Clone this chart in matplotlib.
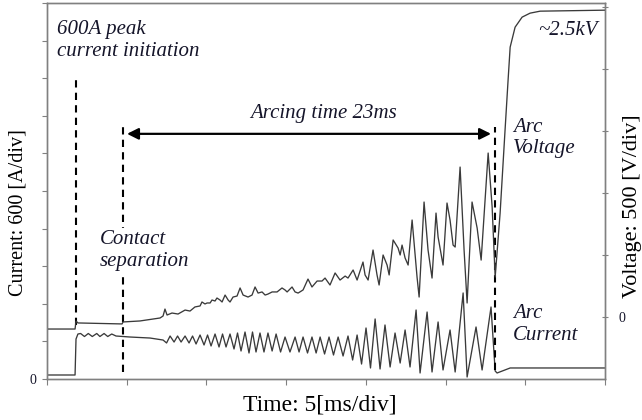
import matplotlib.pyplot as plt

plt.rcParams['font.family'] = ['Liberation Serif', 'DejaVu Serif']

# scope readings: time in ms (5 ms/div), current in A (600 A/div), voltage in V (500 V/div)
cur_t = [0, 1.76, 1.82, 1.94, 2.11, 2.35, 2.59, 2.84, 3.12, 3.32, 3.58, 3.81, 4.06, 4.33,
         5.21, 6.46, 7.28, 7.50, 7.72, 7.97, 8.19, 8.41, 8.66, 8.91, 9.13, 9.35, 9.60, 9.85,
         10.07, 10.29, 10.54, 10.79, 11.01, 11.23, 11.48, 11.73, 11.95, 12.17, 12.42, 12.67,
         12.89, 13.11, 13.36, 13.61, 13.86, 14.12, 14.37, 14.65, 14.93, 15.24, 15.56, 15.81,
         16.06, 16.34, 16.62, 16.88, 17.13, 17.41, 17.69, 17.97, 18.26, 18.57, 18.88, 19.17,
         19.45, 19.73, 20.01, 20.29, 20.58, 20.89, 21.20, 21.52, 21.83, 22.15, 22.46, 22.77,
         23.15, 23.40, 23.84, 24.15, 24.53, 24.84, 25.28, 25.60, 26.10, 26.35, 26.91, 27.29,
         27.85, 28.11, 28.23, 29.05, 35.0]
cur_a = [64, 64, 638, 718, 726, 678, 726, 678, 726, 678, 726, 678, 718, 686,
         670, 654, 622, 575, 686, 590, 686, 590, 686, 575, 686, 559, 702, 543,
         702, 527, 718, 511, 718, 511, 718, 479, 734, 447, 750, 415,
         750, 431, 734, 431, 734, 447, 718, 431, 670, 431, 670, 431,
         670, 415, 670, 415, 670, 399, 670, 383, 670, 367, 686, 303,
         702, 239, 814, 176, 958, 160, 862, 192, 734, 255, 782, 192,
         1101, 96, 1069, 112, 910, 144, 782, 112, 1373, 32, 830, 144,
         1149, 128, 96, 176, 176]

volt_t = [0, 1.76, 1.82, 1.94, 3.32, 4.71, 4.77, 5.83, 7.09, 7.28, 7.40, 7.53, 7.84, 8.22,
          8.66, 8.97, 9.28, 9.60, 9.72, 9.91, 10.04, 10.23, 10.35, 10.54, 10.66, 10.85, 10.98,
          11.17, 11.36, 11.48, 11.67, 11.92, 12.11, 12.30, 12.61, 12.86, 13.05, 13.24, 13.49,
          13.68, 13.86, 14.12, 14.43, 14.74, 14.93, 15.06, 15.37, 15.56, 15.75, 16.06, 16.37,
          16.62, 16.94, 17.25, 17.44, 17.75, 18.07, 18.38, 18.70, 18.88, 19.20, 19.45, 19.82,
          19.95, 20.14, 20.45, 20.70, 20.83, 21.08, 21.33, 21.46, 21.71, 22.02, 22.15, 22.27,
          22.46, 22.65, 22.90, 23.21, 23.34, 23.65, 23.90, 24.15, 24.40, 24.53, 24.84, 25.09,
          25.28, 25.47, 25.60, 25.91, 26.16, 26.35, 26.66, 26.98, 27.23, 27.67, 27.92, 28.11,
          28.42, 28.73, 28.92, 29.05, 29.36, 29.80, 30.30, 30.93, 35.0]
volt_v = [-97, -97, -32, -48, -52, -56, -40, -32, -8, 8, 64, 16, 32, 24,
          56, 48, 81, 89, 121, 105, 113, 113, 137, 129, 153, 137, 121,
          177, 137, 121, 161, 169, 234, 177, 161, 177, 242, 193, 202,
          177, 185, 202, 202, 234, 218, 202, 242, 202, 193, 218, 306,
          242, 290, 290, 314, 258, 355, 298, 330, 314, 379, 298, 443,
          339, 298, 540, 339, 258, 500, 419, 339, 621, 556, 500, 580,
          476, 419, 782, 322, 161, 927, 540, 314, 838, 645, 419, 919,
          782, 580, 564, 1209, 540, 113, 927, 717, 459, 1322, 887, 322,
          838, 1507, 1910, 2176, 2337, 2418, 2450, 2466, 2474]

t_init = 1.82
t_sep = 4.77
t_end = 28.1

trace = '#3a3a3a'
ink = '#15152a'

fig = plt.figure(figsize=(6.42, 4.2), dpi=100)
ax = fig.add_axes([0.0732, 0.0976, 0.8692, 0.8953])
ax2 = ax.twinx()

ax.plot(cur_t, cur_a, color=trace, lw=0.95)
ax2.plot(volt_t, volt_v, color=trace, lw=0.95)

ax.set_xlim(0, 35)
ax.set_ylim(0, 6000)
ax2.set_ylim(-500, 2532)
ax.set_xticks(range(0, 36, 5))
ax.set_xticklabels([])
ax.set_yticks(range(0, 6001, 600))
ax.set_yticklabels(['0'] + [''] * 10)
ax2.set_yticks(range(0, 2501, 500))
ax2.set_yticklabels(['0'] + [''] * 5)

for a in (ax, ax2):
    for s in a.spines.values():
        s.set_color('#808080')
        s.set_linewidth(1.0)
ax.tick_params(axis='x', direction='out', length=4, color='#808080')
ax.tick_params(axis='y', direction='out', length=3.5, color='#808080',
               labelsize=10, labelcolor=ink, pad=4)
ax2.tick_params(axis='y', direction='inout', length=5, color='#808080',
                labelsize=10, labelcolor=ink, pad=7)

# dashed markers
xt = ax.get_xaxis_transform()
dash = dict(color='black', lw=1.5, dashes=(3.5, 2.5))
ax.plot([t_init, t_init], [0.144, 0.809], transform=xt, **dash)
ax.plot([t_sep, t_sep], [0.019, 0.670], transform=xt, **dash)
ax.plot([t_end, t_end], [0.024, 0.670], transform=xt, **dash)

ax.annotate('', xy=(27.85, 0.652), xytext=(5.02, 0.652), xycoords=xt, textcoords=xt,
            arrowprops=dict(arrowstyle='<|-|>', color='black', lw=1.6,
                            mutation_scale=17, shrinkA=0, shrinkB=0))

note = dict(style='italic', fontsize=15, color=ink, transform=ax.transAxes, linespacing=1.2)
ax.text(0.018, 0.955, '600A peak\ncurrent initiation', ha='left', va='top', **note)
ax.text(0.495, 0.707, 'Arcing time 23ms', ha='center', va='center', **note)
ax.text(0.095, 0.395, 'Contact\nseparation', ha='left', va='top', zorder=5,
        bbox=dict(facecolor='white', edgecolor='none', pad=1.5), **note)
ax.text(0.835, 0.695, 'Arc\nVoltage', ha='left', va='top', **note)
ax.text(0.835, 0.200, 'Arc\nCurrent', ha='left', va='top', **note)
ax.text(0.986, 0.928, '~2.5kV', ha='right', va='center', **note)

fig.text(0.028, 0.495, 'Current: 600 [A/div]', rotation=90, ha='center', va='center',
         fontsize=14.5, color='black')
fig.text(0.985, 0.51, 'Voltage: 500 [V/div]', rotation=90, ha='center', va='center',
         fontsize=16, color='black')
fig.text(0.498, 0.035, 'Time: 5[ms/div]', ha='center', va='center', fontsize=17, color='black')

fig.savefig('out.png', dpi=100)
